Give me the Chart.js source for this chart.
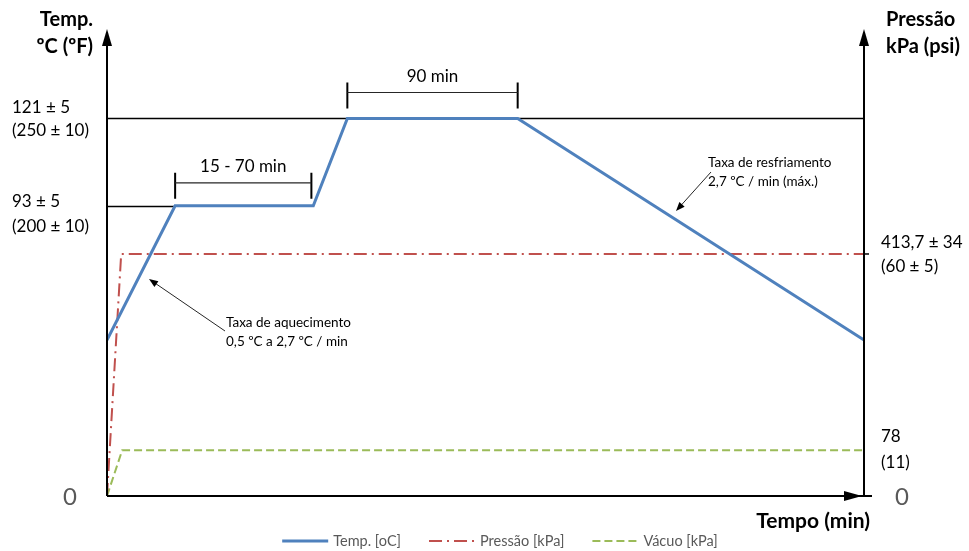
<!DOCTYPE html>
<html>
<head>
<meta charset="utf-8">
<script src="https://cdn.jsdelivr.net/npm/chart.js@4/dist/chart.umd.min.js"></script>
<style>
  html, body { margin: 0; padding: 0; background: #ffffff; }
  #wrap { width: 969px; height: 551px; }
</style>
</head>
<body>
<div id="wrap"><canvas id="c" width="969" height="551"></canvas></div>
<script>
// Cure cycle: temperature, pressure and vacuum against time (min)
const tempTime   = [0, 36, 109, 127, 217, 400];
const tempValues = [50, 93, 93, 121, 121, 50];

const pressTime   = [0, 7.5, 400];
const pressValues = [0, 413.7, 413.7];

const vacTime   = [0, 8, 400];
const vacValues = [0, 78, 78];

const seriesLabels = ['Temp. [oC]', 'Pressão [kPa]', 'Vácuo [kPa]'];

// Level labels on each side
const tempLevels  = [121, 93];
const tempLevelText = [['121 ± 5', '(250 ± 10)'], ['93 ± 5', '(200 ± 10)']];
const pressLevels = [413.7, 78];
const pressLevelText = [['413,7 ± 34', '(60 ± 5)'], ['78', '(11)']];

// Dwell brackets: [start, end, temperature level, text]
const dwellStart = [36, 127];
const dwellEnd   = [108, 217];
const dwellLevel = [93, 121];
const dwellText  = ['15 - 70 min', '90 min'];

const FONT = 'Lato, "Open Sans", sans-serif';
const BLUE = '#4F81BD', RED = '#C0504D', GREEN = '#9BBB59';

function pts(xs, ys) { return xs.map((x, i) => ({ x: x, y: ys[i] })); }

function arrowHead(ctx, tipX, tipY, dir, len, half) {
  ctx.beginPath();
  if (dir === 'up') {
    ctx.moveTo(tipX, tipY);
    ctx.lineTo(tipX - half, tipY + len);
    ctx.lineTo(tipX + half, tipY + len);
  } else if (dir === 'right') {
    ctx.moveTo(tipX, tipY);
    ctx.lineTo(tipX - len, tipY - half);
    ctx.lineTo(tipX - len, tipY + half);
  } else {
    const a = dir;
    ctx.moveTo(tipX, tipY);
    ctx.lineTo(tipX - len * Math.cos(a) + half * Math.sin(a), tipY - len * Math.sin(a) - half * Math.cos(a));
    ctx.lineTo(tipX - len * Math.cos(a) - half * Math.sin(a), tipY - len * Math.sin(a) + half * Math.cos(a));
  }
  ctx.closePath();
  ctx.fill();
}

function pointerArrow(ctx, x0, y0, x1, y1) {
  ctx.save();
  ctx.strokeStyle = '#262626';
  ctx.fillStyle = '#000000';
  ctx.lineWidth = 1;
  const a = Math.atan2(y1 - y0, x1 - x0);
  ctx.beginPath();
  ctx.moveTo(x0, y0);
  ctx.lineTo(x1 - 6 * Math.cos(a), y1 - 6 * Math.sin(a));
  ctx.stroke();
  arrowHead(ctx, x1, y1, a, 9, 3.5);
  ctx.restore();
}

const backdrop = {
  id: 'backdrop',
  beforeDatasetsDraw(chart) {
    const { ctx, chartArea: ca, scales } = chart;
    const x = scales.x, y = scales.y;
    ctx.save();
    ctx.strokeStyle = '#000000';
    ctx.lineWidth = 1.5;
    // reference lines for the hold temperatures
    const y121 = Math.round(y.getPixelForValue(tempLevels[0])) + 0.5;
    ctx.beginPath(); ctx.moveTo(ca.left, y121); ctx.lineTo(ca.right, y121); ctx.stroke();
    const y93 = Math.round(y.getPixelForValue(tempLevels[1])) + 0.5;
    ctx.beginPath(); ctx.moveTo(ca.left, y93); ctx.lineTo(x.getPixelForValue(tempTime[1]), y93); ctx.stroke();
    ctx.restore();
  },
  afterDatasetsDraw(chart) {
    const { ctx, chartArea: ca, scales } = chart;
    const x = scales.x, y = scales.y, y1 = scales.y1;
    ctx.save();

    // axes with arrows
    ctx.strokeStyle = '#000000';
    ctx.fillStyle = '#000000';
    ctx.lineWidth = 2;
    ctx.beginPath();
    ctx.moveTo(ca.left, ca.bottom); ctx.lineTo(ca.left, ca.top + 10);
    ctx.moveTo(ca.right, ca.bottom); ctx.lineTo(ca.right, ca.top + 10);
    ctx.moveTo(ca.left, ca.bottom); ctx.lineTo(ca.right + 8, ca.bottom);
    ctx.stroke();
    arrowHead(ctx, ca.left, ca.top + 1, 'up', 17, 5);
    arrowHead(ctx, ca.right, ca.top + 1, 'up', 17, 5);
    arrowHead(ctx, ca.right - 2, ca.bottom, 'right', 18, 5);
    // small tick at the pressure level on the right axis
    ctx.lineWidth = 1.5;
    const yp = y1.getPixelForValue(pressLevels[0]);
    ctx.beginPath(); ctx.moveTo(ca.right, yp); ctx.lineTo(ca.right + 5, yp); ctx.stroke();

    // dwell brackets
    for (let i = 0; i < dwellText.length; i++) {
      const xa = x.getPixelForValue(dwellStart[i]);
      const xb = x.getPixelForValue(dwellEnd[i]);
      const ly = y.getPixelForValue(dwellLevel[i]);
      const off = i === 0 ? 23 : 26;
      ctx.strokeStyle = '#000000';
      ctx.lineWidth = 2;
      ctx.beginPath();
      ctx.moveTo(xa, ly - off - 10); ctx.lineTo(xa, ly - off + 16);
      ctx.moveTo(xb, ly - off - 10); ctx.lineTo(xb, ly - off + 16);
      ctx.stroke();
      ctx.strokeStyle = '#262626';
      ctx.lineWidth = 1.2;
      ctx.beginPath(); ctx.moveTo(xa, ly - off); ctx.lineTo(xb, ly - off); ctx.stroke();
      ctx.fillStyle = '#000000';
      ctx.font = '17px ' + FONT;
      ctx.textAlign = 'center';
      ctx.textBaseline = 'middle';
      ctx.fillText(dwellText[i], (xa + xb) / 2, ly - off - 16);
    }

    // level labels, left side
    ctx.fillStyle = '#000000';
    ctx.font = '17px ' + FONT;
    ctx.textAlign = 'left';
    ctx.textBaseline = 'middle';
    const leftOff = [[-11, 12], [-4, 21]];
    tempLevels.forEach((v, i) => {
      const py = y.getPixelForValue(v);
      ctx.fillText(tempLevelText[i][0], 12, py + leftOff[i][0]);
      ctx.fillText(tempLevelText[i][1], 12, py + leftOff[i][1]);
    });
    // level labels, right side
    const rightOff = [[-11, 13], [-14, 12]];
    pressLevels.forEach((v, i) => {
      const py = y1.getPixelForValue(v);
      ctx.fillText(pressLevelText[i][0], ca.right + 17, py + rightOff[i][0]);
      ctx.fillText(pressLevelText[i][1], ca.right + 17, py + rightOff[i][1]);
    });

    // zero labels
    ctx.fillStyle = '#595959';
    ctx.font = '24px ' + FONT;
    ctx.textAlign = 'center';
    ctx.fillText('0', ca.left - 37, ca.bottom + 1);
    ctx.fillText('0', ca.right + 38, ca.bottom + 1);

    // axis titles
    ctx.fillStyle = '#000000';
    ctx.font = 'bold 20px ' + FONT;
    ctx.textAlign = 'right';
    ctx.fillText('Temp.', 93, 20);
    ctx.fillText('ºC (ºF)', 93, 47);
    ctx.textAlign = 'left';
    ctx.fillText('Pressão', 886, 20);
    ctx.fillText('kPa (psi)', 886, 47);
    ctx.textAlign = 'right';
    ctx.font = 'bold 21px ' + FONT;
    ctx.fillText('Tempo (min)', 870, 521);

    // rate notes with pointers
    ctx.font = '13.5px ' + FONT;
    ctx.textAlign = 'left';
    ctx.fillText('Taxa de aquecimento', 226, 323);
    ctx.fillText('0,5 ºC a 2,7 ºC / min', 226, 342);
    pointerArrow(ctx, 225, 331, 149, 279);
    ctx.fillText('Taxa de resfriamento', 708, 163);
    ctx.fillText('2,7 ºC / min (máx.)', 708, 182);
    pointerArrow(ctx, 711, 172, 676, 211);

    // legend
    ctx.font = '14.5px ' + FONT;
    ctx.textBaseline = 'middle';
    const lineLen = 46, gapText = 5, gapItem = 28;
    const widths = chart.data.datasets.map(d => lineLen + gapText + ctx.measureText(d.label).width);
    const total = widths.reduce((a, b) => a + b, 0) + gapItem * (widths.length - 1);
    let lx = 500 - total / 2;
    const ly = 541;
    chart.data.datasets.forEach((d, i) => {
      ctx.save();
      ctx.strokeStyle = d.borderColor;
      ctx.lineWidth = d.borderWidth;
      ctx.setLineDash(d.borderDash || []);
      ctx.beginPath(); ctx.moveTo(lx, ly); ctx.lineTo(lx + lineLen, ly); ctx.stroke();
      ctx.restore();
      ctx.fillStyle = '#595959';
      ctx.textAlign = 'left';
      ctx.fillText(d.label, lx + lineLen + gapText, ly);
      lx += widths[i] + gapItem;
    });

    ctx.restore();
  }
};

new Chart(document.getElementById('c'), {
  type: 'line',
  data: {
    datasets: [
      {
        label: seriesLabels[0],
        data: pts(tempTime, tempValues),
        yAxisID: 'y',
        borderColor: BLUE,
        borderWidth: 3,
        pointRadius: 0,
        tension: 0,
        order: 1
      },
      {
        label: seriesLabels[1],
        data: pts(pressTime, pressValues),
        yAxisID: 'y1',
        borderColor: RED,
        borderWidth: 2,
        borderDash: [13, 5, 2, 5],
        pointRadius: 0,
        tension: 0,
        order: 2
      },
      {
        label: seriesLabels[2],
        data: pts(vacTime, vacValues),
        yAxisID: 'y1',
        borderColor: GREEN,
        borderWidth: 2,
        borderDash: [8, 4],
        pointRadius: 0,
        tension: 0,
        order: 3
      }
    ]
  },
  options: {
    responsive: false,
    animation: false,
    layout: { padding: { left: 107, right: 105, top: 28, bottom: 55 } },
    plugins: { legend: { display: false }, tooltip: { enabled: false } },
    scales: {
      x: { type: 'linear', min: 0, max: 400, display: false },
      y: { type: 'linear', min: 0, max: 150, display: false },
      y1: { type: 'linear', min: 0, max: 800, display: false, position: 'right' }
    }
  },
  plugins: [backdrop]
});
</script>
</body>
</html>
